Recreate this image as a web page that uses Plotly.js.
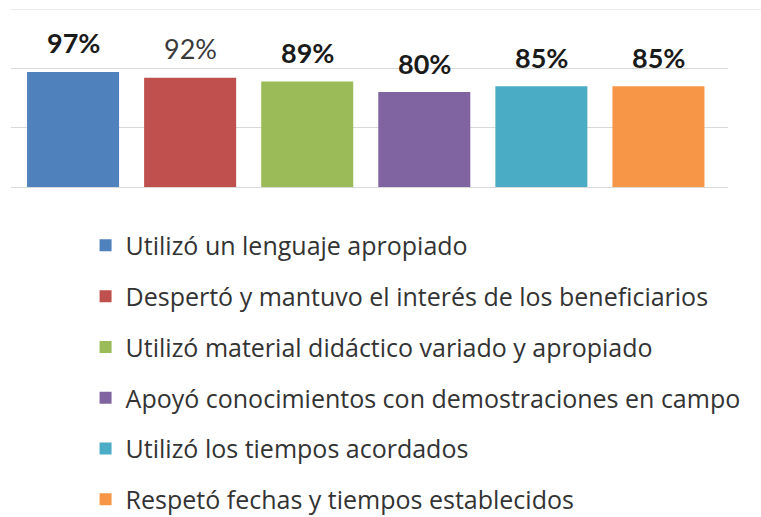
<!DOCTYPE html>
<html>
<head>
<meta charset="utf-8">
<script src="https://cdn.plot.ly/plotly-3.0.1.min.js"></script>
<style>
  html, body { margin: 0; padding: 0; background: #ffffff; }
  #chart { width: 761px; height: 517px; }
</style>
</head>
<body>
<div id="chart"></div>
<script>
const categories = [
    "Utilizó un lenguaje apropiado",
    "Despertó y mantuvo el interés de los beneficiarios",
    "Utilizó material didáctico variado y apropiado",
    "Apoyó conocimientos con demostraciones en campo",
    "Utilizó los tiempos acordados",
    "Respetó fechas y tiempos establecidos"
];
const values = [97, 92, 89, 80, 85, 85];
const labels = ["97%", "92%", "89%", "80%", "85%", "85%"];
const colors = ["#4f81bd", "#c0504d", "#9bbb59", "#8064a2", "#4bacc6", "#f79646"];
const labelWeights = ["bold", "normal", "bold", "bold", "bold", "bold"];

const traces = categories.map(function (name, i) {
    return {
        type: "bar",
        x: [name],
        y: [values[i]],
        name: name,
        legendgroup: "g" + i,
        width: 0.786,
        marker: { color: colors[i] },
        hoverinfo: "none"
    };
});

const annotations = categories.map(function (name, i) {
    return {
        x: name,
        y: values[i],
        xref: "x",
        yref: "y",
        text: labels[i],
        showarrow: false,
        yanchor: "middle",
        yshift: 29,
        font: {
            family: "Lato, sans-serif",
            size: 27,
            color: labelWeights[i] === "bold" ? "#1a1a1a" : "#3a3a3a",
            weight: labelWeights[i]
        }
    };
});

const layout = {
    width: 761,
    height: 517,
    margin: { l: 11, r: 33, t: 9, b: 330, autoexpand: false },
    paper_bgcolor: "#ffffff",
    plot_bgcolor: "#ffffff",
    barmode: "overlay",
    showlegend: true,
    xaxis: {
        type: "category",
        range: [-0.53, 5.594],
        showticklabels: false,
        showgrid: false,
        zeroline: false,
        ticks: ""
    },
    yaxis: {
        range: [0, 150],
        dtick: 50,
        showticklabels: false,
        showgrid: true,
        gridcolor: "#d9d9d9",
        gridwidth: 1,
        zeroline: true,
        zerolinecolor: "#d9d9d9",
        ticks: ""
    },
    legend: {
        orientation: "v",
        x: 0.104,
        xanchor: "left",
        y: -0.2,
        yanchor: "top",
        traceorder: "grouped",
        tracegroupgap: 15.3,
        maxheight: 600,
        font: { family: "Open Sans, sans-serif", size: 25, color: "#333333" },
        bgcolor: "rgba(0,0,0,0)"
    },
    shapes: [{
        type: "line",
        xref: "paper",
        yref: "y",
        x0: 0,
        x1: 1.05,
        y0: 150,
        y1: 150,
        line: { color: "#d9d9d9", width: 1 },
        layer: "below"
    }],
    annotations: annotations
};

Plotly.newPlot("chart", traces, layout, { displayModeBar: false, staticPlot: true });
</script>
</body>
</html>
